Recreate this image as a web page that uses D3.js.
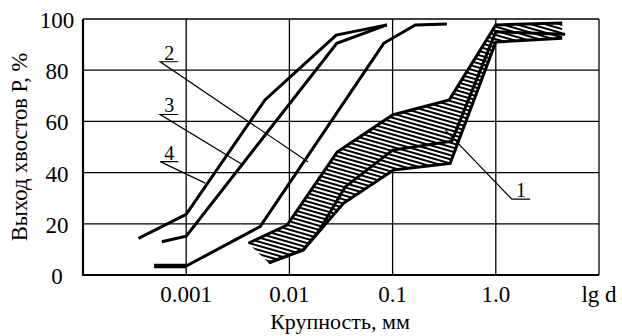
<!DOCTYPE html>
<html>
<head>
<meta charset="utf-8">
<script src="https://cdn.jsdelivr.net/npm/d3@7"></script>
<style>
  body { margin: 0; background: #fff; }
</style>
</head>
<body>
<div id="chart"></div>
<script>
// grain size (mm) vs. tailings yield (%)
const X_TICKS = [0.001, 0.01, 0.1, 1, 10];
const X_TICK_LABELS = ["0.001", "0.01", "0.1", "1.0", "lg d"];
const Y_TICKS = [0, 20, 40, 60, 80, 100];

const CURVE_2 = [[0.00049, 3.5], [0.001, 3.5], [0.0052, 18.9], [0.082, 90.5], [0.166, 97.7], [0.336, 98]];
const CURVE_3 = [[0.00058, 13], [0.001, 15.2], [0.0288, 90.5], [0.088, 97.7]];
const CURVE_4 = [[0.000345, 14.3], [0.001, 23.7], [0.0058, 68.4], [0.0284, 93.7], [0.088, 97.7]];

// zone 1: upper, middle and lower curves
const ZONE_UPPER = [[0.0040, 12.4], [0.0095, 19.5], [0.029, 48], [0.1, 62.5], [0.354, 68.4], [1.0, 97.7], [4.4, 98.4]];
const ZONE_MIDDLE = [[0.0063, 4.7], [0.0136, 9.8], [0.0191, 16.9], [0.0347, 34.4], [0.1, 48.8], [0.375, 52.3], [1.0, 95], [4.7, 94]];
const ZONE_LOWER = [[0.0063, 4.7], [0.0136, 9.8], [0.0334, 28], [0.102, 41], [0.361, 43.6], [1.0, 91], [4.4, 92.5]];

// curve labels: text, underline start/end, leader target
const LABELS = [
  { text: "2", from: [0.00056, 83.3], to: [0.000836, 83.3], target: [0.0152, 44.1] },
  { text: "3", from: [0.00056, 62.7], to: [0.000836, 62.7], target: [0.00356, 43] },
  { text: "4", from: [0.00056, 44.3], to: [0.000836, 44.3], target: [0.00153, 35.9] },
  { text: "1", from: [1.43, 29.6], to: [2.15, 29.6], target: [0.325, 56.6] }
];

const FONT = "'Liberation Serif', 'Times New Roman', serif";
const W = 622, H = 336;
const margin = { top: 19, right: 23, bottom: 61, left: 83 };

const svg = d3.select("#chart").append("svg")
  .attr("width", W)
  .attr("height", H);

const x = d3.scaleLog()
  .domain([1e-4, 10])
  .range([margin.left, W - margin.right]);

const y = d3.scaleLinear()
  .domain([0, 100])
  .range([H - margin.bottom, margin.top]);

function addText(g, size) {
  return g.append("text")
    .attr("font-family", FONT)
    .attr("font-size", size)
    .attr("fill", "#000");
}

// hatch pattern for zone 1
const pattern = svg.append("defs").append("pattern")
  .attr("id", "hatch")
  .attr("patternUnits", "userSpaceOnUse")
  .attr("width", 8)
  .attr("height", 4)
  .attr("patternTransform", "rotate(16)");
pattern.append("rect").attr("width", 8).attr("height", 4).attr("fill", "#fff");
pattern.append("line")
  .attr("x1", 0).attr("x2", 8)
  .attr("y1", 1).attr("y2", 1)
  .attr("stroke", "#000")
  .attr("stroke-width", 2);

// grid
svg.append("g")
  .selectAll("line")
  .data(X_TICKS)
  .enter().append("line")
  .attr("x1", d => x(d)).attr("x2", d => x(d))
  .attr("y1", y(0)).attr("y2", y(100))
  .attr("stroke", "#000")
  .attr("stroke-width", 1.3);

svg.append("g")
  .selectAll("line")
  .data(Y_TICKS.slice(1))
  .enter().append("line")
  .attr("x1", x(1e-4)).attr("x2", x(10))
  .attr("y1", d => y(d)).attr("y2", d => y(d))
  .attr("stroke", "#000")
  .attr("stroke-width", 1.3);

// main axes (left & bottom, heavier)
svg.append("line")
  .attr("x1", x(1e-4)).attr("x2", x(1e-4))
  .attr("y1", y(0) + 1).attr("y2", y(100))
  .attr("stroke", "#000").attr("stroke-width", 2.2);
svg.append("line")
  .attr("x1", x(1e-4) - 1).attr("x2", x(10))
  .attr("y1", y(0)).attr("y2", y(0))
  .attr("stroke", "#000").attr("stroke-width", 2.2);

// tick labels
const xLab = svg.append("g");
X_TICKS.forEach((d, i) => {
  addText(xLab, 23)
    .attr("x", x(d))
    .attr("y", y(0) + 27)
    .attr("text-anchor", "middle")
    .text(X_TICK_LABELS[i]);
});

const yLab = svg.append("g");
Y_TICKS.forEach(d => {
  addText(yLab, 23)
    .attr("x", x(1e-4) - 26)
    .attr("y", y(d) + 9)
    .attr("text-anchor", "middle")
    .text(d);
});

// axis titles
addText(svg, 22)
  .attr("x", 340)
  .attr("y", 329)
  .attr("text-anchor", "middle")
  .text("Крупность, мм");

addText(svg, 22.5)
  .attr("transform", "rotate(-90)")
  .attr("x", -147)
  .attr("y", 27)
  .attr("text-anchor", "middle")
  .text("Выход хвостов Р, %");

const line = d3.line()
  .x(d => x(d[0]))
  .y(d => y(d[1]));

// zone 1 hatched band
const band = ZONE_UPPER.concat(ZONE_LOWER.slice().reverse());
svg.append("path")
  .attr("d", line(band) + "Z")
  .attr("fill", "url(#hatch)")
  .attr("stroke", "none");

[ZONE_UPPER, ZONE_MIDDLE, ZONE_LOWER, CURVE_2, CURVE_3, CURVE_4].forEach(c => {
  svg.append("path")
    .attr("d", line(c))
    .attr("fill", "none")
    .attr("stroke", "#000")
    .attr("stroke-width", 3)
    .attr("stroke-linejoin", "miter");
});

// heavier flat start of curve 2
svg.append("path")
  .attr("d", line(CURVE_2.slice(0, 2)))
  .attr("stroke", "#000")
  .attr("stroke-width", 4.5);

// labels with leaders
const lab = svg.append("g");
LABELS.forEach(d => {
  lab.append("path")
    .attr("d", line([d.to, d.from, d.target]))
    .attr("fill", "none")
    .attr("stroke", "#000")
    .attr("stroke-width", 1.2);
  addText(lab, 20)
    .attr("x", (x(d.from[0]) + x(d.to[0])) / 2)
    .attr("y", y(d.from[1]) - 2)
    .attr("text-anchor", "middle")
    .text(d.text);
});
</script>
</body>
</html>
